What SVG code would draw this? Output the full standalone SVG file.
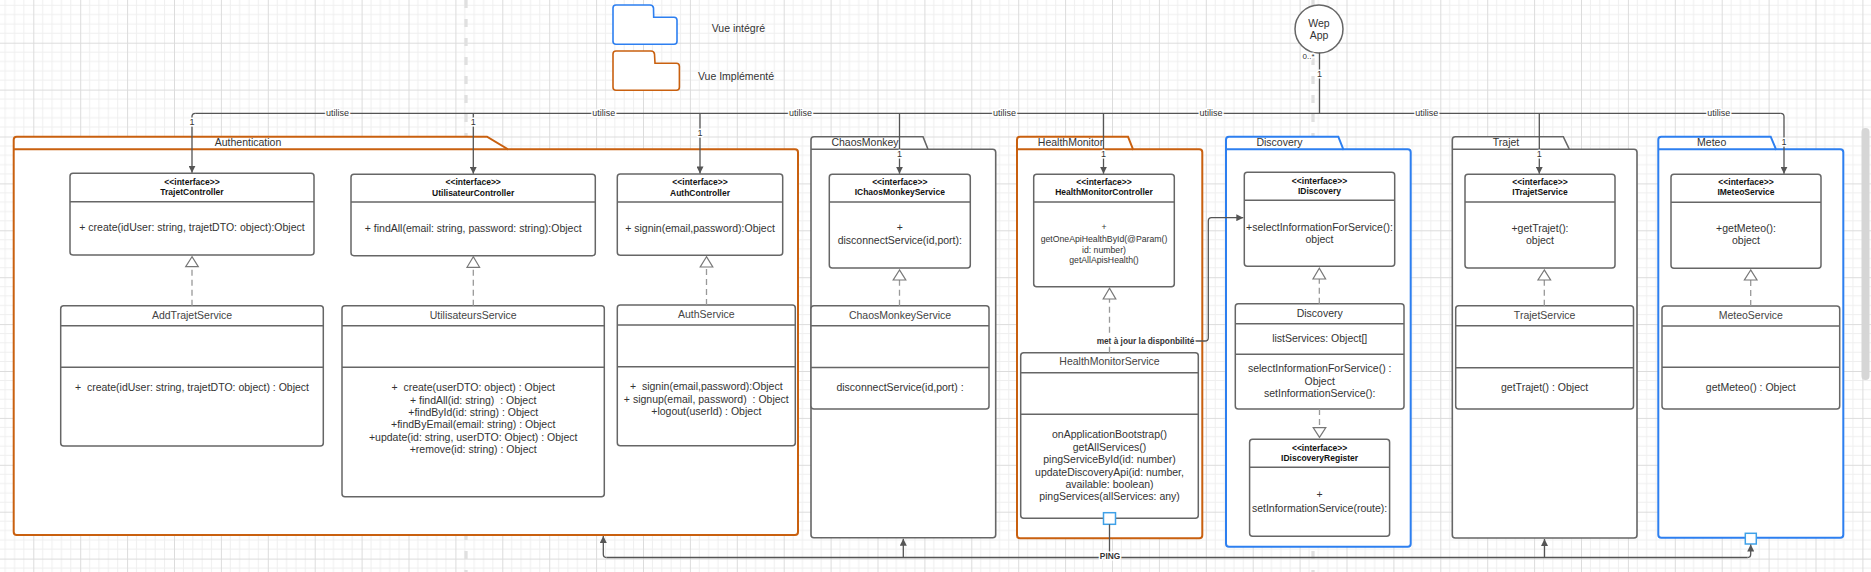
<svg xmlns="http://www.w3.org/2000/svg" width="1871" height="572" viewBox="0 0 1871 572" xml:space="preserve">
<defs>
<pattern id="grid" patternUnits="userSpaceOnUse" x="33.3" y="42.7" width="46.9" height="46.9">
<path d="M9.38 0V46.9M18.76 0V46.9M28.14 0V46.9M37.52 0V46.9M0 9.38H46.9M0 18.76H46.9M0 28.14H46.9M0 37.52H46.9" stroke="#efefef" stroke-width="1" fill="none"/>
<path d="M0.5 0V46.9M0 0.5H46.9" stroke="#dcdcdc" stroke-width="1" fill="none"/>
</pattern>
<marker id="arr" viewBox="0 0 10 10" refX="10" refY="5" markerWidth="7.5" markerHeight="7" markerUnits="userSpaceOnUse" orient="auto">
<path d="M0,0 L10,5 L0,10 z" fill="#555"/>
</marker>
</defs>
<style>
.box{fill:#fff;stroke:#666;stroke-width:1.5}
.dv{stroke:#666;stroke-width:1.5;fill:none}
.t{font-family:"Liberation Sans",Arial,sans-serif;font-size:10.5px;fill:#333;text-anchor:middle;dominant-baseline:central;white-space:pre}
.tt{fill:#444}
.st{font-size:8.5px;font-weight:bold;fill:#111}
.sm{font-size:8.7px}
.conn{fill:none;stroke:#555;stroke-width:1.3}
.real{fill:none;stroke:#999;stroke-width:1.3;stroke-dasharray:6 4}
.tri{fill:#fff;stroke:#777;stroke-width:1.2}
.lbl{font-size:9px;fill:#333;paint-order:stroke;stroke:#fff;stroke-width:3px;stroke-linejoin:round}
.lb{font-weight:bold;font-size:8.3px}
.po{fill:#fff;stroke:#c9600f;stroke-width:2}
.pb{fill:#fff;stroke:#2d7ff0;stroke-width:2}
.pg{fill:#fff;stroke:#666;stroke-width:1.6}
.port{fill:#fff;stroke:#3fa1e8;stroke-width:1.5}
.pbrk{stroke:#e0e0e0;stroke-width:3.3;stroke-dasharray:8 11;fill:none}
</style>
<rect width="1871" height="572" fill="#fff"/>
<rect width="1871" height="572" fill="url(#grid)"/>
<path class="pbrk" d="M466 0V572M1313 0V572"/>
<rect x="1861.5" y="128" width="8" height="252" rx="4" fill="#d6d6d6"/>

<g id="legend">
<path d="M613 42 V8 Q613 5 616 5 H650 Q653 5 653.5 8 L653.7 17.3 H674 Q677 17.3 677 20.3 V41.3 Q677 44.3 674 44.3 H616 Q613 44.3 613 41.3 Z" fill="#fff" stroke="#2d7ff0" stroke-width="1.6"/>
<text class="t" x="738.4" y="28.3">Vue intégré</text>
<path d="M613 87.3 V54 Q613 51 616 51 H651 Q654 51 654.5 54 L655 63.3 H676.4 Q679.4 63.3 679.4 66.3 V87.3 Q679.4 90.3 676.4 90.3 H616 Q613 90.3 613 87.3 Z" fill="#fff" stroke="#c9600f" stroke-width="1.6"/>
<text class="t" x="736" y="75.7">Vue Implémenté</text>
</g>

<g id="webapp">
<circle cx="1319" cy="29" r="24" fill="#fff" stroke="#666" stroke-width="1.5"/>
<text class="t" x="1319" y="23.3">Wep</text>
<text class="t" x="1319" y="35">App</text>
</g>

<g id="pkg-authentication">
<path class="po" d="M13.7 149.3 V139.7 Q13.7 136.7 16.7 136.7 H487 L508 149.3 H795 Q798 149.3 798 152.3 V532 Q798 535 795 535 H16.7 Q13.7 535 13.7 532 Z"/>
<path class="po" d="M13.7 149.3 H508"/>
<text class="t" x="248" y="142">Authentication</text>
</g>
<g id="pkg-chaosmonkey">
<path class="pg" d="M811 149.3 V139.7 Q811 136.7 814 136.7 H923 L928 149.3 H992.7 Q995.7 149.3 995.7 152.3 V534.7 Q995.7 537.7 992.7 537.7 H814 Q811 537.7 811 534.7 Z"/>
<path class="pg" d="M811 149.3 H928"/>
<text class="t" x="865" y="142">ChaosMonkey</text>
</g>
<g id="pkg-healthmonitor">
<path class="po" d="M1017 149.3 V139.7 Q1017 136.7 1020 136.7 H1128 L1133 149.3 H1199.3 Q1202.3 149.3 1202.3 152.3 V535.3 Q1202.3 538.3 1199.3 538.3 H1020 Q1017 538.3 1017 535.3 Z"/>
<path class="po" d="M1017 149.3 H1133"/>
<text class="t" x="1070.5" y="142">HealthMonitor</text>
</g>
<g id="pkg-discovery">
<path class="pb" d="M1226 149.3 V139.7 Q1226 136.7 1229 136.7 H1338.3 L1343.3 149.3 H1407.7 Q1410.7 149.3 1410.7 152.3 V543.7 Q1410.7 546.7 1407.7 546.7 H1229 Q1226 546.7 1226 543.7 Z"/>
<path class="pb" d="M1226 149.3 H1343.3"/>
<text class="t" x="1279.5" y="142">Discovery</text>
</g>
<g id="pkg-trajet">
<path class="pg" d="M1452.3 149.3 V139.7 Q1452.3 136.7 1455.3 136.7 H1563.3 L1569.3 149.3 H1634 Q1637 149.3 1637 152.3 V535 Q1637 538 1634 538 H1455.3 Q1452.3 538 1452.3 535 Z"/>
<path class="pg" d="M1452.3 149.3 H1569.3"/>
<text class="t" x="1506" y="142">Trajet</text>
</g>
<g id="pkg-meteo">
<path class="pb" d="M1658.3 149.3 V139.7 Q1658.3 136.7 1661.3 136.7 H1770.7 L1776 149.3 H1840.3 Q1843.3 149.3 1843.3 152.3 V534.7 Q1843.3 537.7 1840.3 537.7 H1661.3 Q1658.3 537.7 1658.3 534.7 Z"/>
<path class="pb" d="M1658.3 149.3 H1776"/>
<text class="t" x="1711.7" y="142">Meteo</text>
</g>

<g id="TrajetController">
<rect class="box" x="70" y="173.3" width="244" height="81.7" rx="3"/>
<path class="dv" d="M70 201.7H314"/>
<text class="t st" x="192" y="181.7">&lt;&lt;interface&gt;&gt;</text>
<text class="t st" x="192" y="192.3">TrajetController</text>
<text class="t" x="192" y="227.3">+ create(idUser: string, trajetDTO: object):Object</text>
</g>
<g id="UtilisateurController">
<rect class="box" x="351" y="174.3" width="244.3" height="81.4" rx="3"/>
<path class="dv" d="M351 202H595.3"/>
<text class="t st" x="473.2" y="182.3">&lt;&lt;interface&gt;&gt;</text>
<text class="t st" x="473.2" y="192.5">UtilisateurController</text>
<text class="t" x="473.2" y="228.3">+ findAll(email: string, password: string):Object</text>
</g>
<g id="AuthController">
<rect class="box" x="617.3" y="174" width="165.4" height="81.3" rx="3"/>
<path class="dv" d="M617.3 202H782.7"/>
<text class="t st" x="700" y="182.3">&lt;&lt;interface&gt;&gt;</text>
<text class="t st" x="700" y="192.5">AuthController</text>
<text class="t" x="700" y="228">+ signin(email,password):Object</text>
</g>
<g id="AddTrajetService">
<rect class="box" x="60.7" y="305.7" width="262.6" height="140.3" rx="3"/>
<path class="dv" d="M60.7 325.7H323.3M60.7 367.3H323.3"/>
<text class="t tt" x="192" y="315.3">AddTrajetService</text>
<text class="t" x="192" y="387.3">+  create(idUser: string, trajetDTO: object) : Object</text>
</g>
<g id="UtilisateursService">
<rect class="box" x="342" y="305.7" width="262.3" height="191" rx="3"/>
<path class="dv" d="M342 325.7H604.3M342 367.3H604.3"/>
<text class="t tt" x="473.2" y="315.3">UtilisateursService</text>
<text class="t" x="473.2" y="387.3">+  create(userDTO: object) : Object</text>
<text class="t" x="473.2" y="399.5">+ findAll(id: string)  : Object</text>
<text class="t" x="473.2" y="412">+findById(id: string) : Object</text>
<text class="t" x="473.2" y="424.3">+findByEmail(email: string) : Object</text>
<text class="t" x="473.2" y="437">+update(id: string, userDTO: Object) : Object</text>
<text class="t" x="473.2" y="449">+remove(id: string) : Object</text>
</g>
<g id="AuthService">
<rect class="box" x="617.3" y="305" width="178" height="140.7" rx="3"/>
<path class="dv" d="M617.3 325H795.3M617.3 366.7H795.3"/>
<text class="t tt" x="706.3" y="314.3">AuthService</text>
<text class="t" x="706.3" y="386.3">+  signin(email,password):Object</text>
<text class="t" x="706.3" y="399">+ signup(email, password)  : Object</text>
<text class="t" x="706.3" y="411">+logout(userId) : Object</text>
</g>

<g id="IChaosMonkeyService">
<rect class="box" x="829.3" y="174.3" width="141" height="93.7" rx="3"/>
<path class="dv" d="M829.3 202H970.3"/>
<text class="t st" x="899.8" y="182.3">&lt;&lt;interface&gt;&gt;</text>
<text class="t st" x="899.8" y="192.3">IChaosMonkeyService</text>
<text class="t" x="899.8" y="227.3">+</text>
<text class="t" x="899.8" y="240">disconnectService(id,port):</text>
</g>
<g id="ChaosMonkeyService">
<rect class="box" x="811" y="305.7" width="178" height="103.3" rx="3"/>
<path class="dv" d="M811 325.7H989M811 367.5H989"/>
<text class="t tt" x="900" y="315.3">ChaosMonkeyService</text>
<text class="t" x="900" y="387.3">disconnectService(id,port) :</text>
</g>

<g id="HealthMonitorController">
<rect class="box" x="1033.7" y="174.3" width="140.6" height="112.4" rx="3"/>
<path class="dv" d="M1033.7 202H1174.3"/>
<text class="t st" x="1104" y="182.3">&lt;&lt;interface&gt;&gt;</text>
<text class="t st" x="1104" y="192.3">HealthMonitorController</text>
<text class="t sm" x="1104" y="227.3">+</text>
<text class="t sm" x="1104" y="239.3">getOneApiHealthById(@Param()</text>
<text class="t sm" x="1104" y="249.5">id: number)</text>
<text class="t sm" x="1104" y="260.3">getAllApisHealth()</text>
</g>
<g id="HealthMonitorService">
<rect class="box" x="1020.7" y="352.7" width="177.6" height="165.6" rx="3"/>
<path class="dv" d="M1020.7 372.7H1198.3M1020.7 414.3H1198.3"/>
<text class="t tt" x="1109.5" y="361.3">HealthMonitorService</text>
<text class="t" x="1109.5" y="434.3">onApplicationBootstrap()</text>
<text class="t" x="1109.5" y="446.5">getAllServices()</text>
<text class="t" x="1109.5" y="459">pingServiceById(id: number)</text>
<text class="t" x="1109.5" y="471.5">updateDiscoveryApi(id: number,</text>
<text class="t" x="1109.5" y="484">available: boolean)</text>
<text class="t" x="1109.5" y="496.3">pingServices(allServices: any)</text>
<rect class="port" x="1103.5" y="512.7" width="12" height="11.6"/>
</g>

<g id="IDiscovery">
<rect class="box" x="1244.3" y="172.3" width="150.4" height="94" rx="3"/>
<path class="dv" d="M1244.3 200.3H1394.7"/>
<text class="t st" x="1319.5" y="180.7">&lt;&lt;interface&gt;&gt;</text>
<text class="t st" x="1319.5" y="190.5">IDiscovery</text>
<text class="t" x="1319.5" y="226.7">+selectInformationForService():</text>
<text class="t" x="1319.5" y="238.5">object</text>
</g>
<g id="Discovery">
<rect class="box" x="1235.3" y="303.7" width="168.7" height="105.3" rx="3"/>
<path class="dv" d="M1235.3 323.7H1404M1235.3 354.3H1404"/>
<text class="t" x="1319.7" y="313.3">Discovery</text>
<text class="t" x="1319.7" y="338.3">listServices: Object[]</text>
<text class="t" x="1319.7" y="368.3">selectInformationForService() :</text>
<text class="t" x="1319.7" y="380.6">Object</text>
<text class="t" x="1319.7" y="393">setInformationService():</text>
</g>
<g id="IDiscoveryRegister">
<rect class="box" x="1249.6" y="439.3" width="140" height="97" rx="3"/>
<path class="dv" d="M1249.6 467.3H1389.6"/>
<text class="t st" x="1319.6" y="447.7">&lt;&lt;interface&gt;&gt;</text>
<text class="t st" x="1319.6" y="457.5">IDiscoveryRegister</text>
<text class="t" x="1319.6" y="494.3">+</text>
<text class="t" x="1319.6" y="507.7">setInformationService(route):</text>
</g>

<g id="ITrajetService">
<rect class="box" x="1465" y="174.3" width="150" height="93.7" rx="3"/>
<path class="dv" d="M1465 202H1615"/>
<text class="t st" x="1540" y="182.3">&lt;&lt;interface&gt;&gt;</text>
<text class="t st" x="1540" y="192.3">ITrajetService</text>
<text class="t" x="1540" y="228.3">+getTrajet():</text>
<text class="t" x="1540" y="240">object</text>
</g>
<g id="TrajetService">
<rect class="box" x="1455.7" y="305.7" width="177.8" height="103.3" rx="3"/>
<path class="dv" d="M1455.7 325.7H1633.5M1455.7 367.7H1633.5"/>
<text class="t tt" x="1544.6" y="315.3">TrajetService</text>
<text class="t" x="1544.6" y="387.3">getTrajet() : Object</text>
</g>

<g id="IMeteoService">
<rect class="box" x="1671" y="174.3" width="150" height="94" rx="3"/>
<path class="dv" d="M1671 202.3H1821"/>
<text class="t st" x="1746" y="182.3">&lt;&lt;interface&gt;&gt;</text>
<text class="t st" x="1746" y="192.3">IMeteoService</text>
<text class="t" x="1746" y="228.3">+getMeteo():</text>
<text class="t" x="1746" y="240">object</text>
</g>
<g id="MeteoService">
<rect class="box" x="1662" y="306" width="177.7" height="103" rx="3"/>
<path class="dv" d="M1662 326H1839.7M1662 367.3H1839.7"/>
<text class="t tt" x="1750.8" y="315.3">MeteoService</text>
<text class="t" x="1750.8" y="387.3">getMeteo() : Object</text>
</g>
<rect id="meteo-port" class="port" x="1745.3" y="533.3" width="11" height="10.7"/>

<g id="connectors">
<path class="conn" d="M1319.5 52.7V113.3"/>
<path class="conn" d="M195.2 113.3H1780.8"/>
<path class="conn" marker-end="url(#arr)" d="M195.2 113.3Q192 113.3 192 116.5V172.8"/>
<path class="conn" marker-end="url(#arr)" d="M473.3 113.3V173.8"/>
<path class="conn" marker-end="url(#arr)" d="M700 113.3V173.5"/>
<path class="conn" marker-end="url(#arr)" d="M899.5 113.3V173.8"/>
<path class="conn" marker-end="url(#arr)" d="M1103.5 113.3V173.8"/>
<path class="conn" marker-end="url(#arr)" d="M1539.3 113.3V173.8"/>
<path class="conn" marker-end="url(#arr)" d="M1780.8 113.3Q1784 113.3 1784 116.5V173.8"/>

<text class="t lbl" x="337.6" y="113.3">utilise</text>
<text class="t lbl" x="603.7" y="113.3">utilise</text>
<text class="t lbl" x="800.5" y="113.3">utilise</text>
<text class="t lbl" x="1004.5" y="113.3">utilise</text>
<text class="t lbl" x="1211" y="113.3">utilise</text>
<text class="t lbl" x="1426.8" y="113.3">utilise</text>
<text class="t lbl" x="1718.7" y="113.3">utilise</text>
<text class="t lbl" x="192" y="122.3">1</text>
<text class="t lbl" x="473.3" y="122.3">1</text>
<text class="t lbl" x="700" y="132.5">1</text>
<text class="t lbl" x="899.5" y="154.3">1</text>
<text class="t lbl" x="1103.5" y="154.3">1</text>
<text class="t lbl" x="1539.3" y="154.3">1</text>
<text class="t lbl" x="1784" y="141.7">1</text>
<text class="t lbl" x="1308.5" y="56.7" style="font-size:8px">0..*</text>
<text class="t lbl" x="1319.5" y="74">1</text>

<path class="real" d="M192 305.7V266.7"/><polygon class="tri" points="192,256.7 185.7,266.7 198.3,266.7"/>
<path class="real" d="M473.3 305.7V267.3"/><polygon class="tri" points="473.3,256.7 467,267.3 479.6,267.3"/>
<path class="real" d="M706.5 305V267"/><polygon class="tri" points="706.5,256.7 700.2,267 712.8,267"/>
<path class="real" d="M899.5 305.7V280"/><polygon class="tri" points="899.5,270 893.2,280 905.8,280"/>
<path class="real" d="M1109.5 352.7V299"/><polygon class="tri" points="1109.5,288.3 1103.2,299 1115.8,299"/>
<path class="real" d="M1319.3 303.7V279"/><polygon class="tri" points="1319.3,268.3 1313,279 1325.6,279"/>
<path class="real" d="M1319.5 409V427.7"/><polygon class="tri" points="1319.5,437.3 1313.2,427.7 1325.8,427.7"/>
<path class="real" d="M1544.3 305.7V280"/><polygon class="tri" points="1544.3,270 1538,280 1550.6,280"/>
<path class="real" d="M1750.7 306V280"/><polygon class="tri" points="1750.7,270 1744.4,280 1757,280"/>

<path class="conn" marker-end="url(#arr)" d="M1194.5 341H1205Q1208.3 341 1208.3 337.7V221Q1208.3 217.7 1211.6 217.7H1243.3"/>
<text class="t lbl lb" x="1145.5" y="340.7">met à jour la disponbilité</text>

<path class="conn" d="M1109.5 524.3V557.5"/>
<path class="conn" d="M606.5 557.5H1747.5"/>
<path class="conn" marker-end="url(#arr)" d="M606.5 557.5Q603.3 557.5 603.3 554.3V536"/>
<path class="conn" marker-end="url(#arr)" d="M903.3 557.5V538.7"/>
<path class="conn" marker-end="url(#arr)" d="M1544.5 557.5V539"/>
<path class="conn" marker-end="url(#arr)" d="M1747.5 557.5Q1750.7 557.5 1750.7 554.3V544.5"/>
<text class="t lbl lb" x="1110" y="556">PING</text>
</g>
</svg>
